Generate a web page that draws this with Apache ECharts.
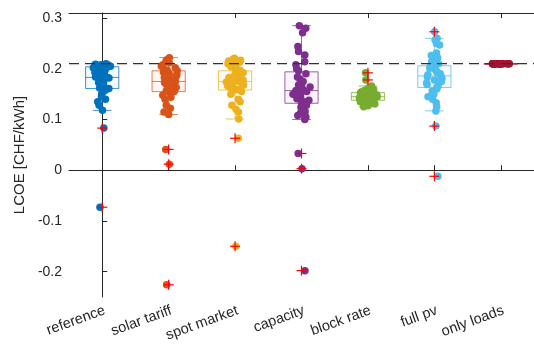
<!DOCTYPE html>
<html>
<head>
<meta charset="utf-8">
<script src="https://cdn.jsdelivr.net/npm/echarts@6/dist/echarts.min.js"></script>
<style>
html,body{margin:0;padding:0;background:#fff;}
#chart{width:534px;height:356px;}
</style>
</head>
<body>
<div id="chart"></div>
<script>
// ---- data ----
const categories = ['reference', 'solar tariff', 'spot market', 'capacity', 'block rate', 'full pv', 'only loads'];
const yTicks = [-0.2, -0.1, 0, 0.1, 0.2, 0.3];
const refLine = 0.21;

const referenceValues = [0.210, 0.209, 0.208, 0.208, 0.207, 0.206, 0.205, 0.205, 0.204, 0.203, 0.202, 0.200,
  0.197, 0.195, 0.193, 0.191, 0.189, 0.187, 0.185, 0.184, 0.183,
  0.182, 0.180, 0.178, 0.176, 0.173, 0.170, 0.168, 0.165, 0.162,
  0.161, 0.158, 0.155, 0.150, 0.145, 0.140, 0.135, 0.128, 0.118, 0.083, -0.073];
const solarTariffValues = [0.222, 0.218, 0.215, 0.212, 0.208, 0.205, 0.202, 0.199, 0.197, 0.196,
  0.193, 0.190, 0.188, 0.185, 0.183, 0.180, 0.178, 0.176, 0.175,
  0.173, 0.171, 0.169, 0.166, 0.163, 0.160, 0.158, 0.156, 0.155,
  0.152, 0.148, 0.144, 0.140, 0.128, 0.122, 0.115, 0.110, 0.041, 0.012, -0.226];
const spotMarketValues = [0.221, 0.219, 0.217, 0.215, 0.213, 0.210, 0.207, 0.204, 0.200, 0.197,
  0.195, 0.192, 0.189, 0.186, 0.183, 0.180, 0.178, 0.176, 0.175,
  0.174, 0.172, 0.170, 0.168, 0.166, 0.164, 0.162, 0.160, 0.158,
  0.155, 0.150, 0.140, 0.135, 0.128, 0.120, 0.115, 0.101, 0.063, -0.150];
const capacityValues = [0.285, 0.280, 0.271, 0.244, 0.234, 0.227, 0.214, 0.208, 0.200, 0.196,
  0.190, 0.184, 0.180, 0.175, 0.170, 0.168, 0.164, 0.160, 0.157,
  0.155, 0.152, 0.150, 0.147, 0.144, 0.141, 0.138, 0.135, 0.132,
  0.128, 0.124, 0.120, 0.116, 0.113, 0.108, 0.105, 0.100, 0.033, 0.003, -0.198];
const blockRateValues = [0.166, 0.162, 0.159, 0.157, 0.155, 0.154, 0.153, 0.152, 0.151, 0.150,
  0.149, 0.148, 0.147, 0.146, 0.146, 0.145, 0.145, 0.144, 0.144,
  0.143, 0.142, 0.141, 0.140, 0.140, 0.139, 0.138, 0.138, 0.137,
  0.136, 0.135, 0.134, 0.133, 0.131, 0.129, 0.127, 0.125, 0.192, 0.178];
const fullPvValues = [0.260, 0.257, 0.250, 0.247, 0.231, 0.226, 0.222, 0.218, 0.214, 0.210, 0.207,
  0.204, 0.201, 0.198, 0.195, 0.192, 0.190, 0.188, 0.186,
  0.184, 0.181, 0.178, 0.175, 0.172, 0.169, 0.166, 0.163,
  0.160, 0.156, 0.150, 0.145, 0.140, 0.133, 0.125, 0.117, 0.273, 0.087, -0.012];
const onlyLoadsValues = [0.210, 0.210, 0.210, 0.210, 0.210, 0.210, 0.210, 0.210, 0.210, 0.210,
  0.210, 0.210, 0.210, 0.210, 0.210, 0.210, 0.210, 0.210, 0.210, 0.210,
  0.210, 0.210, 0.210, 0.210, 0.210, 0.210, 0.210, 0.210, 0.210, 0.210];

// box statistics per category (lower whisker, q1, median, q3, upper whisker)
const boxLow = [0.118, 0.110, 0.101, 0.100, 0.125, 0.117, 0.210];
const boxQ1 = [0.161, 0.155, 0.158, 0.132, 0.138, 0.163, 0.210];
const boxMedian = [0.183, 0.175, 0.175, 0.157, 0.145, 0.186, 0.210];
const boxQ3 = [0.204, 0.196, 0.196, 0.194, 0.153, 0.206, 0.210];
const boxHigh = [0.210, 0.222, 0.221, 0.285, 0.166, 0.260, 0.210];

// outliers (red + markers)
const referenceOutliers = [0.083, -0.073];
const solarTariffOutliers = [0.041, 0.012, -0.226];
const spotMarketOutliers = [0.063, -0.150];
const capacityOutliers = [0.033, 0.003, -0.198];
const blockRateOutliers = [0.192, 0.178];
const fullPvOutliers = [0.273, 0.087, -0.012];
const onlyLoadsOutliers = [];

// ---- styling ----
const colors = ['#0072BD', '#D95319', '#EDB120', '#7E2F8E', '#77AC30', '#4DBEEE', '#A2142F'];
const allValues = [referenceValues, solarTariffValues, spotMarketValues, capacityValues, blockRateValues, fullPvValues, onlyLoadsValues];
const allOutliers = [referenceOutliers, solarTariffOutliers, spotMarketOutliers, capacityOutliers, blockRateOutliers, fullPvOutliers, onlyLoadsOutliers];
const FONT = 'Liberation Sans, Arial, Helvetica, sans-serif';

// deterministic pseudo-random in [-0.5, 0.5) (horizontal position only)
function hash(i, k) {
  const s = Math.sin((i + 1) * 12.9898 + (k + 1) * 78.233) * 43758.5453;
  return s - Math.floor(s) - 0.5;
}
// density-scaled jitter, like a swarm chart
function jitterFor(vals, i) {
  const h = 0.012;
  const dens = vals.map(v => vals.reduce((acc, u) => acc + Math.exp(-0.5 * ((v - u) / h) * ((v - u) / h)), 0));
  const maxD = Math.max.apply(null, dens);
  return vals.map((v, k) => hash(i, k) * 2 * 0.14 * (0.35 + 0.65 * dens[k] / maxD));
}

const series = [];

// boxes
const boxData = categories.map((c, i) => [i, boxLow[i], boxQ1[i], boxMedian[i], boxQ3[i], boxHigh[i]]);
series.push({
  type: 'custom',
  xAxisIndex: 2,
  yAxisIndex: 0,
  z: 2,
  data: boxData,
  renderItem: function (params, api) {
    const i = api.value(0);
    const col = colors[i];
    const unit = api.size([1, 0])[0];
    const half = unit * 0.25;
    const cap = unit * 0.14;
    const cx = api.coord([i, 0])[0];
    const yLow = api.coord([i, api.value(1)])[1];
    const yQ1 = api.coord([i, api.value(2)])[1];
    const yMed = api.coord([i, api.value(3)])[1];
    const yQ3 = api.coord([i, api.value(4)])[1];
    const yHigh = api.coord([i, api.value(5)])[1];
    const ls = { stroke: col, lineWidth: 1, opacity: 0.75 };
    return {
      type: 'group',
      children: [
        { type: 'rect', shape: { x: cx - half, y: yQ3, width: 2 * half, height: Math.max(yQ1 - yQ3, 0.5) },
          style: { fill: col, opacity: 0.05 } },
        { type: 'rect', shape: { x: cx - half, y: yQ3, width: 2 * half, height: Math.max(yQ1 - yQ3, 0.5) },
          style: Object.assign({ fill: 'none' }, ls) },
        { type: 'line', shape: { x1: cx - half, y1: yMed, x2: cx + half, y2: yMed }, style: ls },
        { type: 'line', shape: { x1: cx, y1: yQ3, x2: cx, y2: yHigh }, style: ls },
        { type: 'line', shape: { x1: cx, y1: yQ1, x2: cx, y2: yLow }, style: ls },
        { type: 'line', shape: { x1: cx - cap, y1: yHigh, x2: cx + cap, y2: yHigh }, style: ls },
        { type: 'line', shape: { x1: cx - cap, y1: yLow, x2: cx + cap, y2: yLow }, style: ls }
      ]
    };
  }
});

// jittered points
allValues.forEach((vals, i) => {
  const jit = jitterFor(vals, i);
  series.push({
    type: 'scatter',
    xAxisIndex: 2,
    yAxisIndex: 0,
    z: 3,
    symbolSize: 7.5,
    itemStyle: { color: colors[i], opacity: 1 },
    data: vals.map((v, k) => [i + jit[k], v])
  });
});

// outlier markers
const outlierData = [];
allOutliers.forEach((arr, i) => arr.forEach(v => outlierData.push([i, v])));
series.push({
  type: 'custom',
  xAxisIndex: 2,
  yAxisIndex: 0,
  z: 5,
  data: outlierData,
  renderItem: function (params, api) {
    const p = api.coord([api.value(0), api.value(1)]);
    const r = 5;
    const st = { stroke: '#FF0000', lineWidth: 1.2 };
    return {
      type: 'group',
      children: [
        { type: 'line', shape: { x1: p[0] - r, y1: p[1], x2: p[0] + r, y2: p[1] }, style: st },
        { type: 'line', shape: { x1: p[0], y1: p[1] - r, x2: p[0], y2: p[1] + r }, style: st }
      ]
    };
  }
});

// dashed reference line
series.push({
  type: 'line',
  xAxisIndex: 2,
  yAxisIndex: 0,
  z: 6,
  symbol: 'none',
  silent: true,
  lineStyle: { color: '#333333', width: 1.3, type: [10, 6] },
  data: [[-0.5, refLine], [6.5, refLine]]
});

const axisColor = '#262626';
const chart = echarts.init(document.getElementById('chart'), null, { renderer: 'canvas' });
chart.setOption({
  animation: false,
  backgroundColor: '#ffffff',
  grid: { left: 69, top: 13, width: 467, height: 284, containLabel: false },
  xAxis: [
    {
      type: 'category', data: categories, position: 'bottom', boundaryGap: true,
      axisLine: { show: true, lineStyle: { color: axisColor, width: 1 } },
      axisTick: { show: true, inside: true, alignWithLabel: true, length: 5, lineStyle: { color: axisColor } },
      axisLabel: { interval: 0, rotate: 20, fontSize: 14.5, color: axisColor, margin: 6, verticalAlign: 'top', fontFamily: FONT },
      splitLine: { show: false }
    },
    {
      type: 'category', data: categories, position: 'top', boundaryGap: true,
      axisLine: { show: true, lineStyle: { color: axisColor, width: 1 } },
      axisTick: { show: true, inside: true, alignWithLabel: true, length: 5, lineStyle: { color: axisColor } },
      axisLabel: { show: false },
      splitLine: { show: false }
    },
    { type: 'value', min: -0.5, max: 6.5, show: false }
  ],
  yAxis: [
    {
      type: 'value', min: -0.25, max: 0.31,
      name: 'LCOE [CHF/kWh]', nameLocation: 'middle', nameGap: 41, nameRotate: 90,
      nameTextStyle: { fontSize: 15, color: axisColor, fontFamily: FONT },
      axisLine: { show: true, lineStyle: { color: axisColor, width: 1 } },
      axisTick: { show: true, inside: true, length: 5, customValues: yTicks, lineStyle: { color: axisColor } },
      axisLabel: { fontSize: 14, color: axisColor, margin: 7, customValues: yTicks, fontFamily: FONT },
      splitLine: { show: false }
    }
  ],
  series: series
});
</script>
</body>
</html>
